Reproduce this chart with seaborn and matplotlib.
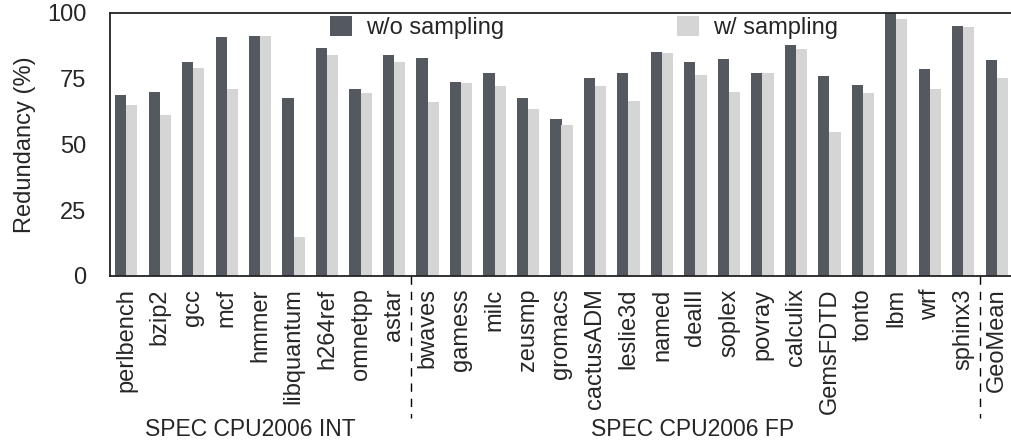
import matplotlib
matplotlib.use("Agg")
import matplotlib.pyplot as plt
import seaborn as sns
import pandas as pd
from matplotlib.patches import Patch

benchmarks = ["perlbench", "bzip2", "gcc", "mcf", "hmmer", "libquantum", "h264ref",
              "omnetpp", "astar", "bwaves", "gamess", "milc", "zeusmp", "gromacs",
              "cactusADM", "leslie3d", "named", "dealII", "soplex", "povray", "calculix",
              "GemsFDTD", "tonto", "lbm", "wrf", "sphinx3", "GeoMean"]
wo_sampling = [68.6, 69.8, 81.2, 90.6, 91.0, 67.5, 86.5, 70.9, 83.8, 82.7, 73.6, 77.0,
               67.5, 59.5, 75.1, 77.0, 84.9, 81.2, 82.3, 77.0, 87.6, 75.8, 72.4, 100.0,
               78.5, 94.8, 81.9]
w_sampling = [64.8, 61.0, 78.9, 70.9, 91.0, 14.8, 83.8, 69.4, 81.2, 66.0, 73.2, 72.1,
              63.3, 57.3, 72.1, 66.4, 84.6, 76.2, 69.8, 77.0, 86.1, 54.6, 69.4, 97.5,
              70.9, 94.4, 75.1]
series_names = ["w/o sampling", "w/ sampling"]
yticks = [0, 25, 50, 75, 100]
group_labels = ["SPEC CPU2006 INT", "SPEC CPU2006 FP"]

DARK = "#54585f"
LIGHT = "#d5d5d5"

sns.set_style("white")
plt.rcParams["font.family"] = ["Liberation Sans", "DejaVu Sans"]
plt.rcParams["font.size"] = 17

df = pd.DataFrame({
    "bench": benchmarks * 2,
    "value": wo_sampling + w_sampling,
    "series": [series_names[0]] * len(benchmarks) + [series_names[1]] * len(benchmarks),
})

fig = plt.figure(figsize=(10.11, 4.42), dpi=100)
ax = fig.add_axes([110 / 1011, 166 / 442, 903 / 1011, (429.5 - 166) / 442])

sns.barplot(data=df, x="bench", y="value", hue="series", order=benchmarks,
            hue_order=series_names, palette=[DARK, LIGHT], width=0.66,
            saturation=1, linewidth=0, errorbar=None, ax=ax, legend=False)

ax.set_xlim(-0.48, 26.48)
ax.set_ylim(0, 100)
ax.set_yticks(yticks)
ax.set_yticklabels([str(v) for v in yticks], fontsize=17)
ax.set_xticks(range(len(benchmarks)))
ax.set_xticklabels(benchmarks, rotation=90, fontsize=17, ha="center", va="top")
ax.tick_params(axis="x", length=0, pad=9)
ax.tick_params(axis="y", length=0, pad=17)
ax.set_xlabel("")
ax.set_ylabel("Redundancy (%)", fontsize=17, labelpad=8)

for s in ax.spines.values():
    s.set_visible(True)
    s.set_color("#222222")
    s.set_linewidth(1.3)

# dashed separators below axis
for xs in [8.5, 25.5]:
    ax.plot([xs, xs], [0, -54], color="black", lw=1.0, linestyle=(0, (6, 5)),
            clip_on=False)

ax.text(3.7, -58.3, group_labels[0], ha="center", va="center", fontsize=16.5)
ax.text(16.9, -58.3, group_labels[1], ha="center", va="center", fontsize=16.5)

handles = [Patch(facecolor=DARK, edgecolor="none"), Patch(facecolor=LIGHT, edgecolor="none")]
fig.legend(handles, series_names, loc="upper left",
           bbox_to_anchor=(330 / 1011, 1 - 16 / 442), ncol=2, frameon=False,
           borderpad=0, borderaxespad=0, handlelength=0.92, handleheight=0.95,
           handletextpad=0.62, columnspacing=7.3, fontsize=17)

fig.savefig("out.png", dpi=100)
